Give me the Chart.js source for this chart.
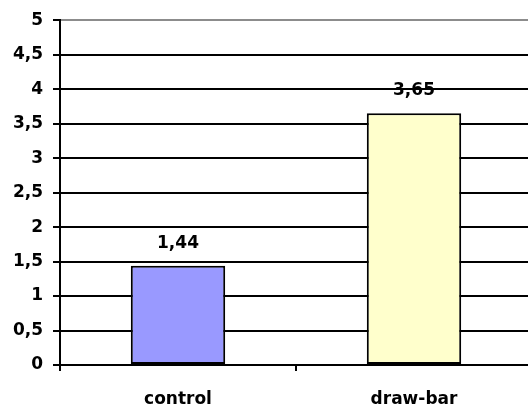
<!DOCTYPE html>
<html>
<head>
<meta charset="utf-8">
<script src="https://cdn.jsdelivr.net/npm/chart.js@4"></script>
<style>
  html, body { margin: 0; padding: 0; overflow: hidden; background: #fff; }
  #wrap { width: 532px; height: 408px; }
</style>
</head>
<body>
<div id="wrap"><canvas id="barChart"></canvas></div>
<script>
const categories = ['control', 'draw-bar'];
const values = [1.44, 3.65];
const barColors = ['#9999ff', '#ffffcc'];
const yTicks = [0, 0.5, 1, 1.5, 2, 2.5, 3, 3.5, 4, 4.5, 5];

const comma = v => String(v).replace('.', ',');
const labelFont = { family: "'DejaVu Sans'", size: 17, weight: 'bold' };

// value labels above each bar
const valueLabels = {
    id: 'valueLabels',
    afterDatasetsDraw(chart) {
        const ctx = chart.ctx;
        const meta = chart.getDatasetMeta(0);
        ctx.save();
        ctx.font = "bold 17px 'DejaVu Sans'";
        ctx.fillStyle = '#000';
        ctx.textAlign = 'center';
        ctx.textBaseline = 'alphabetic';
        meta.data.forEach((bar, i) => {
            ctx.fillText(comma(values[i]), bar.x, bar.y - 18);
        });
        ctx.restore();
    }
};

new Chart(document.getElementById('barChart'), {
    type: 'bar',
    data: {
        labels: categories,
        datasets: [{
            data: values,
            backgroundColor: barColors,
            borderColor: '#000',
            borderWidth: 2,
            borderSkipped: false,
            barPercentage: 0.4,
            categoryPercentage: 1
        }]
    },
    options: {
        responsive: true,
        maintainAspectRatio: false,
        animation: false,
        layout: { padding: { top: 19, left: 0, right: 0, bottom: 0 } },
        plugins: {
            legend: { display: false },
            tooltip: { enabled: false }
        },
        scales: {
            y: {
                min: 0,
                max: 5,
                afterFit: s => { s.width = 60; },
                afterBuildTicks: s => { s.ticks = yTicks.map(v => ({ value: v })); },
                border: { color: '#000', width: 2 },
                grid: {
                    color: c => c.tick && c.tick.value === 5 ? '#8c8c8c' : '#000',
                    tickColor: '#000',
                    lineWidth: 2,
                    tickLength: 7
                },
                ticks: {
                    color: '#000',
                    font: labelFont,
                    padding: 10,
                    callback: v => comma(v)
                }
            },
            x: {
                afterFit: s => { s.height = 43; },
                border: { color: '#000', width: 2 },
                grid: {
                    drawOnChartArea: false,
                    color: '#000',
                    lineWidth: 2,
                    tickLength: 6
                },
                ticks: {
                    color: '#000',
                    font: labelFont,
                    padding: 18
                }
            }
        }
    },
    plugins: [valueLabels]
});
</script>
</body>
</html>
